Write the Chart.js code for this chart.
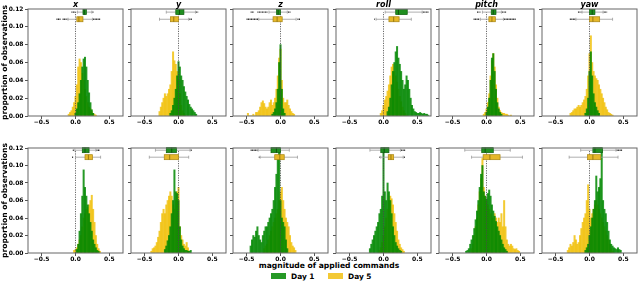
<!DOCTYPE html>
<html>
<head>
<meta charset="utf-8">
<script src="https://cdn.jsdelivr.net/npm/chart.js@4.4.0/dist/chart.umd.min.js"></script>
<style>
  body { margin: 0; background: #fff; width: 640px; height: 294px; overflow: hidden; position: relative; font-family: "DejaVu Sans", sans-serif; }
  canvas { position: absolute; }
  .txt { position: absolute; font-weight: bold; white-space: nowrap; color: #000; }
  .sw { position: absolute; width: 15px; height: 5.5px; }
</style>
</head>
<body>
<div class="txt" style="left:329px;top:261px;font-size:7.6px;line-height:9px;transform:translateX(-50%)">magnitude of applied commands</div>
<div class="sw" style="left:271px;top:273.3px;background:#269926"></div>
<div class="txt" style="left:291px;top:271.5px;font-size:7.4px;line-height:9px">Day 1</div>
<div class="sw" style="left:328px;top:273.3px;background:#f3c935"></div>
<div class="txt" style="left:348px;top:271.5px;font-size:7.4px;line-height:9px">Day 5</div>
<script>
// panels and axes
const panels = ['x', 'y', 'z', 'roll', 'pitch', 'yaw'];
const binWidth = 0.02;
const xTicks = [-0.5, 0, 0.5];

// histogram bins: first bin centre per panel, then proportions
const day1TopStart = [0.00, -0.12, -0.12, 0.06, 0.00, -0.06];
const day1Top = [
  [0.003, 0.008, 0.015, 0.025, 0.04, 0.055, 0.064, 0.066, 0.055, 0.04, 0.026, 0.015, 0.007, 0.003],
  [0.003, 0.006, 0.012, 0.02, 0.03, 0.045, 0.061, 0.055, 0.045, 0.04, 0.033, 0.027, 0.022, 0.018, 0.013, 0.01, 0.008, 0.006, 0.004, 0.002],
  [0.002, 0.004, 0.008, 0.015, 0.03, 0.06, 0.08, 0.03, 0.008, 0.003],
  [0.005, 0.01, 0.02, 0.035, 0.05, 0.06, 0.072, 0.078, 0.065, 0.058, 0.05, 0.04, 0.03, 0.035, 0.045, 0.04, 0.03, 0.02, 0.012, 0.008, 0.005, 0.004, 0.003, 0.003, 0.004, 0.003, 0.002, 0.003, 0.002, 0.002, 0.001],
  [0.004, 0.01, 0.02, 0.04, 0.065, 0.07, 0.05, 0.03, 0.015, 0.008, 0.004, 0.002],
  [0.003, 0.008, 0.02, 0.05, 0.072, 0.045, 0.025, 0.015, 0.01, 0.006, 0.003]
];
const day5TopStart = [-0.10, -0.28, -0.48, -0.04, -0.04, -0.28];
const day5Top = [
  [0.002, 0.004, 0.006, 0.01, 0.015, 0.022, 0.035, 0.055, 0.064, 0.06, 0.048, 0.04, 0.03, 0.022, 0.015, 0.01, 0.008, 0.005, 0.003, 0.002, 0.001],
  [0.005, 0.01, 0.015, 0.02, 0.025, 0.022, 0.025, 0.03, 0.035, 0.05, 0.072, 0.062, 0.058, 0.05, 0.04, 0.025, 0.012, 0.006, 0.003, 0.001],
  [0.003, 0, 0, 0, 0.002, 0, 0.004, 0.004, 0.006, 0.01, 0.015, 0.017, 0.014, 0.01, 0.008, 0.01, 0.015, 0.018, 0.012, 0.015, 0.02, 0.03, 0.045, 0.065, 0.075, 0.04, 0.02, 0.015, 0.015, 0.018, 0.012, 0.008, 0.005, 0.003, 0.002],
  [0.003, 0.006, 0.012, 0.018, 0.022, 0.028, 0.035, 0.045, 0.055, 0.058, 0.05, 0.045, 0.038, 0.03, 0.022, 0.016, 0.01, 0.006, 0.003, 0.001],
  [0.002, 0.004, 0.008, 0.015, 0.025, 0.045, 0.062, 0.07, 0.055, 0.035, 0.02, 0.01, 0.006, 0.004, 0.003, 0.003, 0.002, 0.002, 0.001, 0, 0.001],
  [0.003, 0.004, 0.006, 0.008, 0.008, 0.01, 0.012, 0.01, 0.012, 0.015, 0.018, 0.022, 0.03, 0.045, 0.07, 0.09, 0.06, 0.05, 0.045, 0.042, 0.04, 0.035, 0.03, 0.025, 0.02, 0.015, 0.01, 0.007, 0.004, 0.003, 0.002, 0.001]
];
const day1BottomStart = [0.02, -0.20, -0.44, -0.20, -0.30, -0.06];
const day1Bottom = [
  [0.004, 0.01, 0.025, 0.045, 0.065, 0.095, 0.075, 0.065, 0.055, 0.045, 0.035, 0.025, 0.015, 0.01, 0.006, 0.003, 0.002],
  [0.004, 0.008, 0.014, 0.02, 0.03, 0.045, 0.06, 0.095, 0.07, 0.068, 0.06, 0.03, 0.015, 0.008, 0.005, 0.003, 0.003, 0.002, 0.002, 0.003],
  [0.008, 0.015, 0.02, 0.018, 0.025, 0.03, 0.02, 0.015, 0.012, 0.02, 0.025, 0.03, 0.03, 0.035, 0.04, 0.045, 0.05, 0.06, 0.075, 0.09, 0.11, 0.12, 0.06, 0.04, 0.035, 0.03, 0.015, 0.005],
  [0.005, 0.01, 0.015, 0.02, 0.025, 0.03, 0.035, 0.045, 0.05, 0.065, 0.12, 0.07, 0.06, 0.08, 0.07, 0.06, 0.045, 0.03, 0.02, 0.012, 0.008, 0.005, 0.003, 0.002],
  [0.002, 0.003, 0.005, 0.01, 0.015, 0.02, 0.028, 0.038, 0.048, 0.06, 0.075, 0.09, 0.1, 0.07, 0.065, 0.062, 0.068, 0.072, 0.065, 0.055, 0.048, 0.042, 0.036, 0.03, 0.025, 0.02, 0.015, 0.01, 0.006, 0.004, 0.002],
  [0.003, 0.006, 0.01, 0.02, 0.03, 0.04, 0.05, 0.06, 0.088, 0.07, 0.075, 0.085, 0.118, 0.06, 0.05, 0.045, 0.035, 0.025, 0.015, 0.01, 0.008, 0.006, 0.005, 0.004, 0.006, 0.004, 0.003]
];
const day5BottomStart = [-0.02, -0.40, -0.24, -0.06, -0.22, -0.32];
const day5Bottom = [
  [0.003, 0.004, 0.006, 0.01, 0.015, 0.02, 0.03, 0.04, 0.045, 0.05, 0.052, 0.055, 0.06, 0.066, 0.05, 0.035, 0.02, 0.01, 0.005, 0.002],
  [0.002, 0.005, 0.006, 0.008, 0.012, 0.018, 0.025, 0.035, 0.045, 0.05, 0.045, 0.055, 0.06, 0.065, 0.07, 0.065, 0.055, 0.05, 0.06, 0.07, 0.075, 0.03, 0.02, 0.015, 0.01, 0.008, 0.012, 0.006, 0.002],
  [0.005, 0.008, 0.01, 0.015, 0.02, 0.025, 0.03, 0.035, 0.04, 0.045, 0.05, 0.06, 0.07, 0.075, 0.06, 0.05, 0.04, 0.035, 0.03, 0.02, 0.012, 0.008, 0.006, 0.003],
  [0.003, 0.006, 0.012, 0.02, 0.03, 0.04, 0.05, 0.06, 0.065, 0.062, 0.055, 0.045, 0.035, 0.025, 0.015, 0.01, 0.006, 0.004, 0.002],
  [0.005, 0.01, 0.02, 0.03, 0.04, 0.055, 0.07, 0.085, 0.108, 0.075, 0.065, 0.06, 0.055, 0.05, 0.045, 0.04, 0.04, 0.045, 0.04, 0.035, 0.04, 0.035, 0.045, 0.03, 0.06, 0.03, 0.015, 0.01, 0.008, 0.01, 0.008, 0.005, 0.004, 0.005, 0.003, 0.002],
  [0.003, 0.006, 0.01, 0.008, 0.012, 0.02, 0.015, 0.01, 0.012, 0.02, 0.028, 0.035, 0.04, 0.045, 0.06, 0.078, 0.05, 0.04, 0.045, 0.05, 0.055, 0.06, 0.055, 0.05, 0.045, 0.04, 0.035, 0.03, 0.025, 0.02, 0.015, 0.01, 0.005, 0.002]
];

// box plots: [whisker low, q1, median, q3, whisker high], fliers as [from, to]
const box1Top = [[0.03, 0.11, 0.13, 0.16, 0.24], [-0.18, -0.04, 0.015, 0.08, 0.25], [-0.17, -0.06, -0.035, 0.0, 0.1], [0.025, 0.18, 0.22, 0.35, 0.57], [-0.06, 0.07, 0.1, 0.14, 0.22], [-0.11, 0.0, 0.04, 0.08, 0.2]];
const box5Top = [[-0.11, 0.02, 0.05, 0.11, 0.25], [-0.28, -0.12, -0.07, 0.0, 0.15], [-0.32, -0.11, -0.05, 0.025, 0.23], [-0.11, 0.08, 0.15, 0.23, 0.41], [-0.09, 0.035, 0.08, 0.13, 0.25], [-0.2, 0.0, 0.05, 0.15, 0.34]];
const box1Bottom = [[-0.01, 0.1, 0.14, 0.2, 0.3], [-0.34, -0.18, -0.1, -0.03, 0.17], [-0.33, -0.14, -0.06, 0.0, 0.13], [-0.2, -0.04, 0.01, 0.08, 0.25], [-0.32, -0.07, -0.02, 0.1, 0.35], [-0.13, 0.05, 0.08, 0.19, 0.39]];
const box5Bottom = [[0.0, 0.14, 0.19, 0.25, 0.37], [-0.43, -0.21, -0.13, 0.0, 0.15], [-0.3, -0.085, -0.01, 0.055, 0.25], [-0.04, 0.07, 0.11, 0.15, 0.29], [-0.22, -0.05, 0.05, 0.2, 0.53], [-0.3, -0.03, 0.05, 0.165, 0.42]];
const flier1Top = [[[-0.06, 0.01], [0.25, 0.27]], [[0.26, 0.29]], [[-0.44, -0.39], [-0.34, -0.19], [0.11, 0.15]], [[0.58, 0.67]], [[-0.14, -0.09], [0.23, 0.29]], [[-0.17, -0.12], [0.21, 0.26]]];
const flier5Top = [[[-0.28, -0.22], [-0.19, -0.12], [0.26, 0.37]], [[0.16, 0.2]], [[-0.5, -0.33], [0.25, 0.29]], [[-0.14, -0.13]], [[-0.19, -0.1], [0.26, 0.43]], [[-0.29, -0.21]]];
const flier1Bottom = [[[-0.04, -0.02], [0.31, 0.36]], [[0.18, 0.2]], [[-0.44, -0.34]], [[0.26, 0.32]], [], [[0.4, 0.48]]];
const flier5Bottom = [[[-0.05, -0.03]], [], [[-0.32, -0.31]], [[-0.06, -0.05], [0.3, 0.32]], [], []];

// layout
const colLeft = [28, 131, 233, 336, 439, 542];
const rowTop = [0, 136];
const padTop = [9, 12];
const plotH = [107, 105];
const boxLevel = [[0.1165, 0.1085], [0.1175, 0.1095]];

const rows = [
  { d1: day1Top, s1: day1TopStart, d5: day5Top, s5: day5TopStart, b1: box1Top, b5: box5Top, f1: flier1Top, f5: flier5Top },
  { d1: day1Bottom, s1: day1BottomStart, d5: day5Bottom, s5: day5BottomStart, b1: box1Bottom, b5: box5Bottom, f1: flier1Bottom, f5: flier5Bottom }
];

Chart.defaults.font.family = '"DejaVu Sans", sans-serif';

const toBars = (start, vals) => vals.map((v, i) => ({ x: Math.round((start + i * binWidth) * 100) / 100, y: v }));

function drawBox(ctx, xs, yc, b, fl, fill, edge, med) {
  const [lo, q1, md, q3, hi] = b.map(v => xs.getPixelForValue(v));
  ctx.strokeStyle = '#9a9a9a';
  ctx.lineWidth = 0.8;
  ctx.beginPath();
  ctx.moveTo(lo, yc); ctx.lineTo(q1, yc);
  ctx.moveTo(q3, yc); ctx.lineTo(hi, yc);
  ctx.moveTo(lo, yc - 1.5); ctx.lineTo(lo, yc + 1.5);
  ctx.moveTo(hi, yc - 1.5); ctx.lineTo(hi, yc + 1.5);
  ctx.stroke();
  ctx.fillStyle = fill;
  ctx.fillRect(q1, yc - 2.5, q3 - q1, 5);
  ctx.strokeStyle = edge;
  ctx.lineWidth = 0.7;
  ctx.strokeRect(q1, yc - 2.5, q3 - q1, 5);
  ctx.strokeStyle = med;
  ctx.beginPath();
  ctx.moveTo(md, yc - 2.5); ctx.lineTo(md, yc + 2.5);
  ctx.stroke();
  ctx.strokeStyle = '#2a2a2a';
  ctx.lineWidth = 1.4;
  ctx.setLineDash([1, 0.5]);
  fl.forEach(([a, z]) => {
    ctx.beginPath();
    ctx.moveTo(xs.getPixelForValue(a), yc);
    ctx.lineTo(xs.getPixelForValue(z), yc);
    ctx.stroke();
  });
  ctx.setLineDash([]);
}

function decor(r, c) {
  const d = rows[r];
  return {
    id: 'decor',
    afterDatasetsDraw(chart) {
      const { ctx, chartArea: a, scales: { x, y } } = chart;
      ctx.save();
      // dotted zero line
      const x0 = x.getPixelForValue(0);
      ctx.strokeStyle = '#444';
      ctx.lineWidth = 0.8;
      ctx.setLineDash([1.2, 1.2]);
      ctx.beginPath();
      ctx.moveTo(x0, a.bottom);
      ctx.lineTo(x0, y.getPixelForValue(boxLevel[r][0]));
      ctx.stroke();
      ctx.setLineDash([]);
      drawBox(ctx, x, y.getPixelForValue(boxLevel[r][0]), d.b1[c], d.f1[c], '#1f8f1f', '#0d5e0d', '#0a3a0a');
      drawBox(ctx, x, y.getPixelForValue(boxLevel[r][1]), d.b5[c], d.f5[c], '#e6b82a', '#a88410', '#7a6000');
      // frame
      ctx.strokeStyle = '#666';
      ctx.lineWidth = 1;
      ctx.strokeRect(a.left, a.top, a.width, a.height);
      if (r === 0) {
        ctx.fillStyle = '#000';
        ctx.font = 'italic bold 8px "DejaVu Sans"';
        ctx.textAlign = 'center';
        ctx.textBaseline = 'alphabetic';
        ctx.fillText(panels[c], (a.left + a.right) / 2, a.top - 2.5);
      }
      ctx.restore();
    }
  };
}

const tickFont = { size: 6, weight: 'bold' };

for (let r = 0; r < 2; r++) {
  for (let c = 0; c < 6; c++) {
    const d = rows[r];
    const cv = document.createElement('canvas');
    cv.width = 126;
    cv.height = padTop[r] + plotH[r] + 14;
    cv.style.left = (colLeft[c] - 28) + 'px';
    cv.style.top = rowTop[r] + 'px';
    document.body.appendChild(cv);

    new Chart(cv, {
      type: 'bar',
      data: {
        datasets: [
          { label: 'Day 1', data: toBars(d.s1[c], d.d1[c]), backgroundColor: 'rgba(0,135,0,0.85)', borderWidth: 0, grouped: false, barPercentage: 1, categoryPercentage: 1 },
          { label: 'Day 5', data: toBars(d.s5[c], d.d5[c]), backgroundColor: 'rgba(240,190,0,0.8)', borderWidth: 0, grouped: false, barPercentage: 1, categoryPercentage: 1 }
        ]
      },
      options: {
        responsive: false,
        animation: false,
        events: [],
        layout: { padding: { top: padTop[r], left: 0, right: 3, bottom: 0 } },
        plugins: { legend: { display: false }, tooltip: { enabled: false } },
        scales: {
          x: {
            type: 'linear', min: -0.7, max: 0.7, offset: false,
            afterBuildTicks: s => { s.ticks = xTicks.map(v => ({ value: v })); },
            afterFit: s => { s.height = 14; },
            ticks: {
              autoSkip: false, maxRotation: 0, padding: 0, color: '#000', font: tickFont,
              callback: v => Math.abs(v) < 1e-9 ? '0.0' : (v < 0 ? '\u2212' : '') + Math.abs(v).toFixed(1)
            },
            grid: { display: true, drawOnChartArea: false, drawTicks: true, tickLength: 3, color: '#555', offset: false },
            border: { display: false }
          },
          y: {
            min: 0, max: 0.12,
            afterFit: s => { s.width = 28; },
            ticks: { stepSize: 0.02, display: c === 0, padding: 1.5, color: '#000', font: tickFont, callback: v => v.toFixed(2) },
            grid: { display: true, drawOnChartArea: false, drawTicks: true, tickLength: 3, color: '#555' },
            border: { display: false },
            title: { display: c === 0, text: 'proportion of observations', color: '#000', padding: 0, font: { size: 7.6, weight: 'bold' } }
          }
        }
      },
      plugins: [decor(r, c)]
    });
  }
}
</script>
</body>
</html>
